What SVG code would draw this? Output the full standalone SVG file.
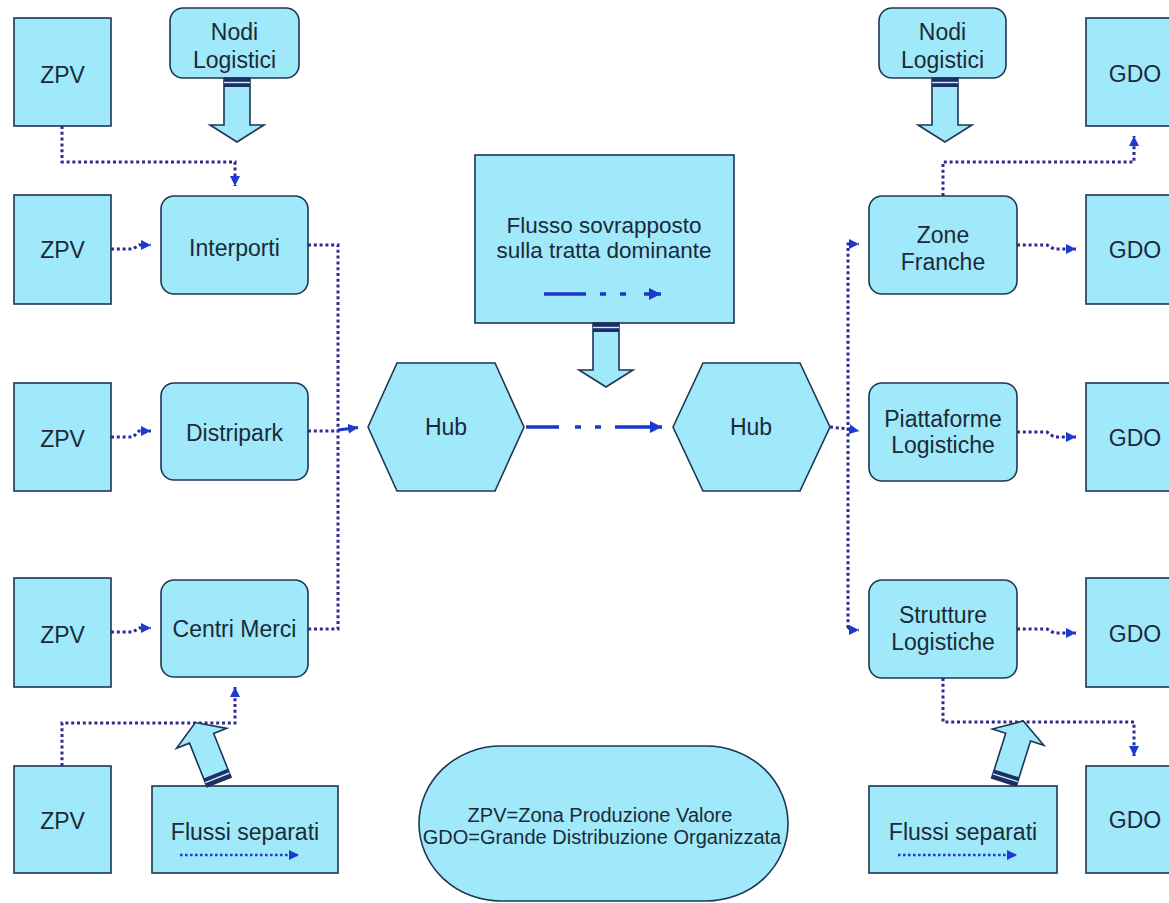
<svg xmlns="http://www.w3.org/2000/svg" xmlns:xlink="http://www.w3.org/1999/xlink" width="1169" height="903" viewBox="0 0 1169 903">
<style>
.box{fill:#a0e9fa;stroke:#1f3550;stroke-width:1.6}
.t{font-family:"Liberation Sans",Arial,sans-serif;font-size:23px;fill:#1c2a38;text-anchor:middle}
.t2{font-family:"Liberation Sans",Arial,sans-serif;font-size:22.5px;fill:#1c2a38;text-anchor:middle}
.leg{font-family:"Liberation Sans",Arial,sans-serif;font-size:20px;fill:#1c2a38;text-anchor:middle}
.dot{fill:none;stroke:#2c2c94;stroke-width:3;stroke-dasharray:3 2.8}
.dotb{fill:none;stroke:#2536d8;stroke-width:2.6;stroke-dasharray:2.6 2.4}
.main{fill:none;stroke:#1c34c8;stroke-width:3.5}
.ba{fill:#a0e9fa;stroke:#1f3550;stroke-width:1.6}
</style>
<defs>
<marker id="ah" viewBox="0 0 10 10" refX="10" refY="5" markerWidth="10" markerHeight="10" markerUnits="userSpaceOnUse" orient="auto">
<path d="M0,0 L10,5 L0,10 Z" fill="#1a3ad0"/>
</marker>
<marker id="ahb" viewBox="0 0 10 10" refX="10" refY="5" markerWidth="12" markerHeight="12" markerUnits="userSpaceOnUse" orient="auto">
<path d="M0,0 L10,5 L0,10 Z" fill="#1a3ad0"/>
</marker>
<g id="barrow">
<polygon class="ba" points="-13,0 13,0 13,47 27,47 0,64 -27,47 -13,47"/>
<rect x="-13" y="0" width="26" height="9" fill="#1d2f6a"/>
<line x1="-13" y1="4.5" x2="13" y2="4.5" stroke="#cfe9f5" stroke-width="1.4"/>
</g>
</defs>

<g id="connectors">
<path class="dot" d="M62,126 V162 H235 V186" marker-end="url(#ah)"/>
<path class="dot" d="M111,249 H133 L139,245 H151" marker-end="url(#ah)"/>
<path class="dot" d="M111,437 H133 L139,431 H151" marker-end="url(#ah)"/>
<path class="dot" d="M111,632 H133 L139,628 H151" marker-end="url(#ah)"/>
<path class="dot" d="M62,766 V723 H235 V687" marker-end="url(#ah)"/>
<path class="dot" d="M308,245 H338 V629 H308"/>
<path class="dot" d="M308,431 H338"/>
<path d="M338,430 L358,427.5" fill="none" stroke="#1c34c8" stroke-width="2.8" marker-end="url(#ah)"/>
<path class="main" d="M526,427 H559 M575,427 H581 M595,427 H601 M615,427 H662" marker-end="url(#ahb)"/>
<path class="dot" d="M830,427 L848,429 L859,431" marker-end="url(#ah)"/>
<path class="dot" d="M848,628 V244 H859" marker-end="url(#ah)"/>
<path class="dot" d="M848,627 L851,630 H859" marker-end="url(#ah)"/>
<path class="dot" d="M943,196 V162 H1134 V136" marker-end="url(#ah)"/>
<path class="dot" d="M1017,245 H1047 L1054,249 H1076" marker-end="url(#ah)"/>
<path class="dot" d="M1017,432 H1047 L1054,437 H1076" marker-end="url(#ah)"/>
<path class="dot" d="M1017,629 H1047 L1054,633 H1076" marker-end="url(#ah)"/>
<path class="dot" d="M943,678 V722 H1134 V756" marker-end="url(#ah)"/>
</g>

<g id="zpv1"><rect class="box" x="14" y="18" width="97" height="108"/><text class="t" x="62.5" y="83">ZPV</text></g>
<g id="zpv2"><rect class="box" x="14" y="195" width="97" height="109"/><text class="t" x="62.5" y="258">ZPV</text></g>
<g id="zpv3"><rect class="box" x="14" y="383" width="97" height="108"/><text class="t" x="62.5" y="447">ZPV</text></g>
<g id="zpv4"><rect class="box" x="14" y="578" width="97" height="109"/><text class="t" x="62.5" y="643">ZPV</text></g>
<g id="zpv5"><rect class="box" x="14" y="766" width="97" height="107"/><text class="t" x="62.5" y="829">ZPV</text></g>

<g id="nodi-left"><rect class="box" x="170" y="8" width="129" height="70" rx="13"/><text class="t" x="234.5" y="40">Nodi</text><text class="t" x="234.5" y="68">Logistici</text></g>
<g id="arrow-nodi-left"><use xlink:href="#barrow" href="#barrow" transform="translate(237,78)"/></g>

<g id="interporti"><rect class="box" x="161" y="196" width="147" height="98" rx="13"/><text class="t" x="234.5" y="256">Interporti</text></g>
<g id="distripark"><rect class="box" x="161" y="383" width="147" height="97" rx="13"/><text class="t" x="234.5" y="441">Distripark</text></g>
<g id="centri-merci"><rect class="box" x="161" y="580" width="147" height="97" rx="13"/><text class="t" x="234.5" y="637">Centri Merci</text></g>

<g id="flussi-left"><rect class="box" x="152" y="786" width="186" height="87"/><text class="t" x="245" y="840">Flussi separati</text><path class="dotb" d="M180,855 H299" marker-end="url(#ah)"/></g>
<g id="arrow-flussi-left"><use xlink:href="#barrow" href="#barrow" transform="translate(219,782) rotate(158.3)"/></g>

<g id="hub1"><polygon class="box" points="368,427 397,363 495,363 524,427 495,491 397,491"/><text class="t" x="446" y="435">Hub</text></g>
<g id="hub2"><polygon class="box" points="673,427 703,363 800,363 830,427 800,491 703,491"/><text class="t" x="751" y="435">Hub</text></g>

<g id="flusso"><rect class="box" x="475" y="155" width="259" height="168"/><text class="t2" x="604" y="233">Flusso sovrapposto</text><text class="t2" x="604" y="258">sulla tratta dominante</text>
<path class="main" d="M544,294 H586 M600,294 H606 M620,294 H626 M644,294 H661" marker-end="url(#ahb)"/></g>
<g id="arrow-flusso"><use xlink:href="#barrow" href="#barrow" transform="translate(606,323)"/></g>

<g id="legenda"><rect class="box" x="419" y="746" width="369" height="155" rx="82" ry="78"/><text class="leg" x="600" y="822">ZPV=Zona Produzione Valore</text><text class="leg" x="602" y="844">GDO=Grande Distribuzione Organizzata</text></g>

<g id="nodi-right"><rect class="box" x="879" y="8" width="127" height="70" rx="13"/><text class="t" x="942.5" y="40">Nodi</text><text class="t" x="942.5" y="68">Logistici</text></g>
<g id="arrow-nodi-right"><use xlink:href="#barrow" href="#barrow" transform="translate(945,78)"/></g>

<g id="zone-franche"><rect class="box" x="869" y="196" width="148" height="98" rx="13"/><text class="t" x="943" y="243">Zone</text><text class="t" x="943" y="270">Franche</text></g>
<g id="piattaforme"><rect class="box" x="869" y="383" width="148" height="98" rx="13"/><text class="t" x="943" y="427">Piattaforme</text><text class="t" x="943" y="453">Logistiche</text></g>
<g id="strutture"><rect class="box" x="869" y="580" width="148" height="98" rx="13"/><text class="t" x="943" y="623">Strutture</text><text class="t" x="943" y="650">Logistiche</text></g>

<g id="flussi-right"><rect class="box" x="869" y="786" width="188" height="87"/><text class="t" x="963" y="840">Flussi separati</text><path class="dotb" d="M898,855 H1017" marker-end="url(#ah)"/></g>
<g id="arrow-flussi-right"><use xlink:href="#barrow" href="#barrow" transform="translate(1004,782) rotate(197.5)"/></g>

<g id="gdo1"><rect class="box" x="1086" y="18" width="97" height="108"/><text class="t" x="1135" y="82">GDO</text></g>
<g id="gdo2"><rect class="box" x="1086" y="195" width="97" height="109"/><text class="t" x="1135" y="258">GDO</text></g>
<g id="gdo3"><rect class="box" x="1086" y="383" width="97" height="108"/><text class="t" x="1135" y="446">GDO</text></g>
<g id="gdo4"><rect class="box" x="1086" y="578" width="97" height="109"/><text class="t" x="1135" y="642">GDO</text></g>
<g id="gdo5"><rect class="box" x="1086" y="766" width="97" height="107"/><text class="t" x="1135" y="828">GDO</text></g>
</svg>
